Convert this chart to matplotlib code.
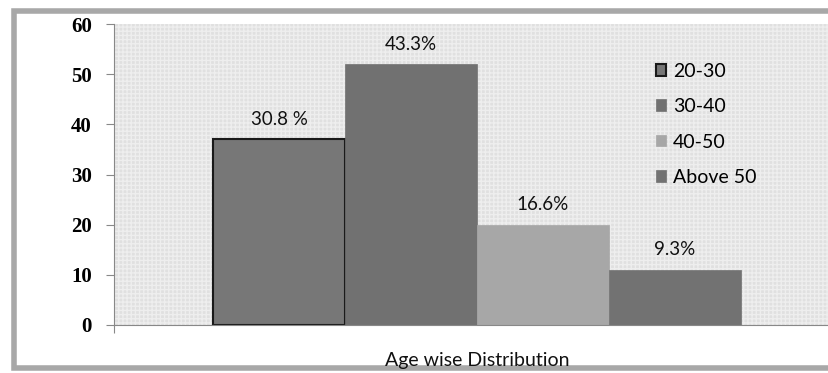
import matplotlib.pyplot as plt
from matplotlib.patches import Rectangle

# Age groups, respondent counts and the percentage labels shown above each bar
groups = ['20-30', '30-40', '40-50', 'Above 50']
counts = [37, 52, 20, 11]
pct_labels = ['30.8 %', '43.3%', '16.6%', '9.3%']
colors = ['#777777', '#717171', '#a7a7a7', '#727272']
edges = ['#1a1a1a', '#717171', '#a7a7a7', '#727272']
category = 'Age wise Distribution'
yticks = [0, 10, 20, 30, 40, 50, 60]

fig = plt.figure(figsize=(8.29, 3.73), dpi=100)
fig.patch.set_facecolor('white')

# chart border with a soft grey edge
fig.patches.append(Rectangle((14 / 829, 5 / 373), 1.2, 357 / 373, transform=fig.transFigure,
                             facecolor='white', edgecolor='#a8a8a8', lw=4, zorder=-5))

ax = fig.add_axes([114 / 829, 48 / 373, 726 / 829, 301 / 373])
ax.set_facecolor('#e0e0e0')
ax.add_patch(Rectangle((0, 0), 1, 1, transform=ax.transAxes, facecolor='none',
                       edgecolor='#eeeeee', hatch='++++', lw=0, zorder=0))

w = 1 / 5.5
for i, (g, c, col, ec, lab) in enumerate(zip(groups, counts, colors, edges, pct_labels)):
    x = (i - 1.5) * w
    ax.bar(x, c, width=w, color=col, edgecolor=ec, lw=1.5 if i == 0 else 0.5,
           label=g, zorder=2)
    ax.text(x, c + 2.3, lab, ha='center', va='bottom', fontsize=13.5,
            family='Lato', color='#111111')

ax.set_xlim(-0.5, 0.5)
ax.set_ylim(0, 60)
ax.set_yticks(yticks)
ax.set_yticklabels([str(t) for t in yticks], family='Liberation Serif',
                   fontweight='bold', fontsize=15)
ax.set_xticks([-0.5])
ax.set_xticklabels([''])
ax.tick_params(axis='y', length=6, color='#888888', pad=10)
ax.tick_params(axis='x', length=6, color='#888888', direction='out')
ax.text(0, -7, category, ha='center', va='center', fontsize=14,
        family='Lato', color='#111111')

for side in ['top', 'right']:
    ax.spines[side].set_visible(False)
for side in ['left', 'bottom']:
    ax.spines[side].set_color('#888888')

ax.legend(loc='upper left', bbox_to_anchor=(0.722, 0.93), frameon=False,
          prop={'family': 'Lato', 'size': 14}, handlelength=0.55,
          handleheight=0.55, handletextpad=0.35, labelspacing=0.95)

fig.savefig('out.png', dpi=100)
